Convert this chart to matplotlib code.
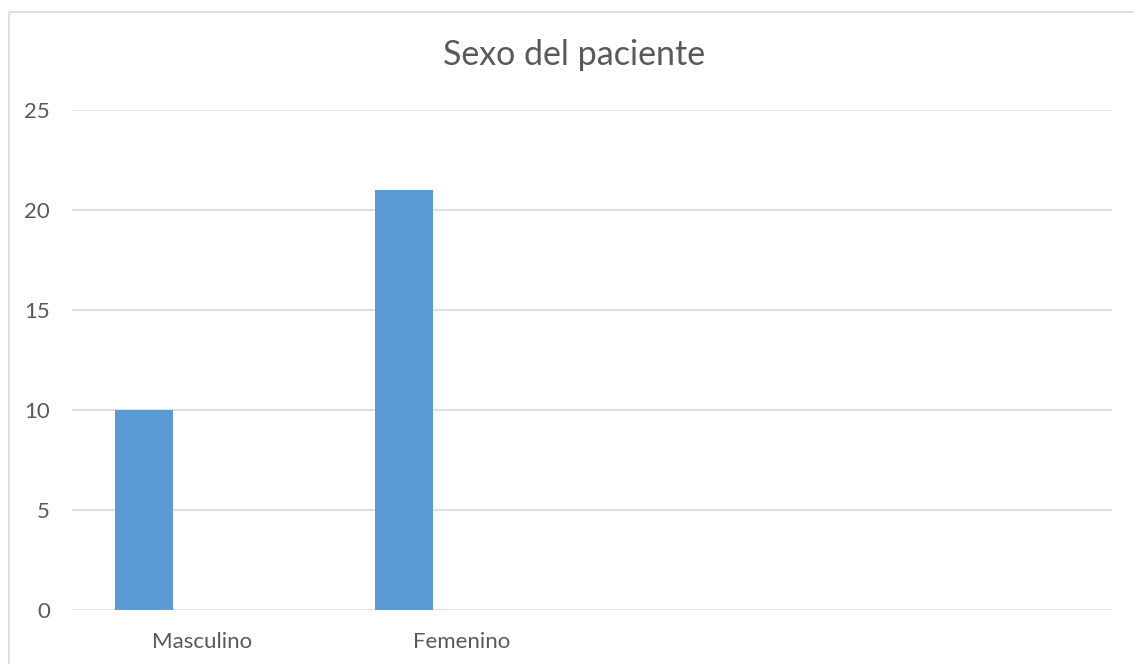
import matplotlib.pyplot as plt
from matplotlib.lines import Line2D
import numpy as np

categories = ["Masculino", "Femenino", "", ""]
pacientes = [10, 21, 0, 0]
yticks = [0, 5, 10, 15, 20, 25]

plt.rcParams['font.family'] = ['Lato', 'DejaVu Sans']
text_color = '#595959'
grid_color = '#d9d9d9'
bar_color = '#5b9bd5'

W, H = 1134, 664
fig = plt.figure(figsize=(W / 100, H / 100), dpi=100, facecolor='white')
fig.patch.set_edgecolor('white')
fig.patch.set_linewidth(0)
ax = fig.add_axes([72 / W, 1 - 610 / H, 1040 / W, 500 / H])

# clustered layout: three series slots per category, gap width 150%
n_slots = 3
gap = 1.5
width = 1 / (n_slots + gap)
x = np.arange(len(categories))
offset = -width * (n_slots - 1) / 2
ax.bar(x + offset, pacientes, width=width, color=bar_color, zorder=3)

ax.set_xlim(-0.5, len(categories) - 0.5)
ax.set_ylim(0, 25)
ax.set_yticks(yticks)
ax.set_xticks(x)
ax.set_xticklabels(categories)
ax.yaxis.grid(True, color=grid_color, linewidth=1.2)
ax.set_axisbelow(True)
for s in ax.spines.values():
    s.set_visible(False)
ax.tick_params(axis='both', length=0, colors=text_color, labelsize=16)
ax.tick_params(axis='y', pad=16)
ax.tick_params(axis='x', pad=16)

fig.text(574 / W, 1 - 55 / H, "Sexo del paciente", ha='center', va='center',
         fontsize=24.5, color=text_color)

# chart area border (left and top edges fall inside the image)
bx, by = 8.5 / W, 1 - 11.5 / H
fig.add_artist(Line2D([bx, bx], [-0.01, by], transform=fig.transFigure,
                      color=grid_color, linewidth=1.2, solid_capstyle='butt'))
fig.add_artist(Line2D([bx, 1.01], [by, by], transform=fig.transFigure,
                      color=grid_color, linewidth=1.2, solid_capstyle='butt'))

fig.savefig("out.png", dpi=100)
